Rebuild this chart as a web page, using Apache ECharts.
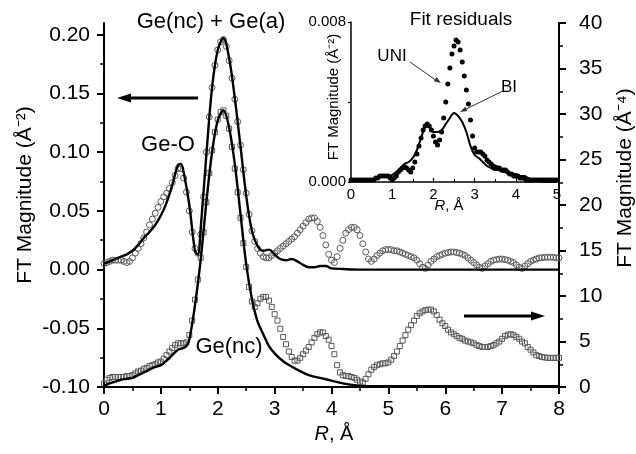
<!DOCTYPE html>
<html><head><meta charset="utf-8">
<script src="https://cdn.jsdelivr.net/npm/echarts@6/dist/echarts.min.js"></script>
<style>html,body{margin:0;padding:0;background:#fff}#c{width:636px;height:454px}</style>
</head><body><div id="c"></div>
<script>
// ---- main plot: R grid of the measured data (start / step) ----
const R_START = 0, R_STEP = 0.05;
// Ge(nc)+Ge(a) data, left axis (Å^-2)
const upperData = [
 0.005,0.006,0.007,0.008,0.008,0.008,0.008,0.007,0.006,0.007,
 0.010,0.014,0.018,0.022,0.027,0.032,0.038,0.043,0.048,0.053,
 0.058,0.062,0.065,0.069,0.074,0.080,0.086,0.086,0.078,0.066,
 0.050,0.032,0.018,0.014,0.030,0.062,0.100,0.130,0.155,0.174,
 0.187,0.194,0.196,0.190,0.178,0.163,0.145,0.126,0.106,0.085,
 0.065,0.047,0.033,0.024,0.018,0.014,0.011,0.010,0.010,0.012,
 0.014,0.016,0.018,0.020,0.022,0.024,0.026,0.028,0.031,0.034,
 0.037,0.040,0.043,0.044,0.044,0.041,0.036,0.029,0.021,0.013,
 0.008,0.006,0.011,0.018,0.025,0.031,0.034,0.036,0.036,0.034,
 0.029,0.022,0.015,0.009,0.007,0.009,0.012,0.014,0.016,0.017,
 0.017,0.017,0.016,0.016,0.015,0.014,0.013,0.012,0.011,0.010,
 0.008,0.005,0.002,0.001,0.004,0.007,0.009,0.011,0.012,0.013,
 0.014,0.0145,0.015,0.015,0.0145,0.014,0.013,0.012,0.010,0.008,
 0.006,0.004,0.002,0.001,0.003,0.005,0.007,0.008,0.0085,0.009,
 0.009,0.0085,0.008,0.007,0.006,0.004,0.002,0.001,0.003,0.005,
 0.007,0.008,0.009,0.010,0.010,0.0105,0.0105,0.0105,0.0105,0.010,
 0.010];
// Ge(nc) data, right axis (Å^-4)
const lowerData = [
 0.4,0.8,1.0,1.1,1.1,1.1,1.1,1.1,1.2,1.2,
 1.3,1.5,1.7,1.8,2.0,2.1,2.3,2.4,2.5,2.7,
 2.8,3.1,3.5,3.9,4.3,4.6,4.8,4.8,4.8,4.9,
 5.7,7.3,9.6,11.8,14.2,17.0,20.3,23.5,26.0,28.0,
 29.4,30.2,30.4,29.8,28.4,26.4,24.0,21.4,18.6,15.8,
 13.2,11.0,9.4,8.8,9.2,9.7,9.9,9.9,9.5,8.8,
 8.0,7.3,6.4,5.5,4.7,3.9,3.3,2.9,2.9,3.2,
 3.6,4.0,4.4,4.9,5.4,5.8,6.0,6.0,5.6,5.2,
 4.5,3.6,2.4,1.6,1.3,1.2,1.2,1.1,1.0,0.8,
 0.6,0.5,0.9,1.4,1.9,2.2,2.4,2.5,2.6,2.6,
 2.7,3.0,3.4,3.9,4.5,5.1,5.7,6.3,6.8,7.3,
 7.8,8.1,8.3,8.45,8.5,8.5,8.3,7.9,7.4,7.0,
 6.7,6.3,6.0,5.8,5.6,5.4,5.3,5.1,5.0,4.9,
 4.8,4.6,4.5,4.4,4.4,4.4,4.5,4.6,4.8,5.0,
 5.3,5.6,5.75,5.8,5.7,5.5,5.3,5.0,4.8,4.4,
 4.1,3.8,3.5,3.4,3.3,3.25,3.2,3.2,3.2,3.2,
 3.2];
// fits
const upperFitR = [0,0.1,0.2,0.3,0.4,0.5,0.6,0.7,0.8,0.9,1.0,1.1,1.2,1.3,1.35,1.4,1.5,1.6,1.65,1.7,1.8,1.9,2.0,2.1,2.2,2.3,2.4,2.5,2.6,2.7,2.8,2.9,3.0,3.1,3.2,3.3,3.4,3.5,3.6,3.7,3.8,3.9,4.0,4.2,4.5,5.0,6.0,7.0,8.0];
const upperFit  = [0.005,0.007,0.009,0.011,0.013,0.016,0.021,0.027,0.032,0.038,0.046,0.057,0.072,0.089,0.090,0.083,0.055,0.016,0.013,0.035,0.098,0.155,0.187,0.197,0.180,0.146,0.105,0.063,0.033,0.020,0.016,0.017,0.013,0.009,0.008,0.009,0.007,0.004,0.002,0.002,0.003,0.003,0.001,0.0005,0,0,0,0,0];
const lowerFitR = [0,0.1,0.2,0.3,0.4,0.5,0.6,0.7,0.8,0.9,1.0,1.1,1.2,1.3,1.4,1.45,1.5,1.6,1.7,1.8,1.9,2.0,2.1,2.2,2.3,2.4,2.5,2.6,2.7,2.8,2.9,3.0,3.1,3.2,3.4,3.6,3.8,4.0,4.2,4.4,4.6,5.0,6.0,7.0,8.0];
const lowerFit  = [0.1,0.4,0.6,0.8,0.9,1.0,1.3,1.6,1.9,2.2,2.4,2.9,3.5,4.1,4.3,4.5,5.2,9.0,14.0,20.3,25.8,29.3,30.4,28.5,24.5,19.0,13.5,9.7,7.2,5.8,4.5,3.7,3.1,2.6,1.9,1.3,1.0,0.7,0.4,0.2,0.1,0.1,0.1,0.1,0.1];
// ---- inset: fit residuals ----
const INSET_STEP = 0.05;
const uniData = [
 0.0001,0.0001,0.0001,0.0001,0.0001,0.0001,0.0001,0.0001,0.0001,0.0001,
 0.0001,0.0001,0.0002,0.0002,0.0003,0.0003,0.0003,0.0003,0.0003,0.0002,
 0.0001,0.0002,0.0003,0.0005,0.0006,0.0007,0.00075,0.0007,0.0006,0.0005,
 0.0007,0.0010,0.0014,0.0018,0.0022,0.0026,0.0028,0.0029,0.0028,0.0026,
 0.0023,0.0020,0.00185,0.0021,0.0025,0.0032,0.0040,0.0049,0.0057,0.0064,
 0.0068,0.0071,0.0070,0.0066,0.0060,0.0053,0.0046,0.0039,0.0031,0.0023,
 0.0017,0.0015,0.0015,0.0015,0.0014,0.0013,0.0011,0.0010,0.0009,0.0008,
 0.00075,0.0007,0.0007,0.0006,0.0006,0.0006,0.0005,0.0004,0.0004,0.0003,
 0.0003,0.0003,0.0002,0.0002,0.0002,0.0001,0.0001,0.0001,0.0001,0.0001,
 0.0001,0.0001,0.0001,0.0001,0.0001,0.0001,0.0001,0.0001,0.0001,0.0001,
 0.0001];
const biR    = [0,0.5,0.6,0.7,0.8,0.9,1.0,1.1,1.2,1.3,1.4,1.5,1.6,1.7,1.8,1.85,1.9,2.0,2.1,2.2,2.3,2.4,2.5,2.6,2.7,2.8,2.9,3.0,3.1,3.2,3.3,3.4,3.5,3.6,3.7,3.8,3.9,4.0,4.1,4.2,4.3,4.4,4.5,4.7,5.0];
const biData = [0.0001,0.0001,0.0002,0.0003,0.0003,0.0003,0.00035,0.0005,0.0007,0.0009,0.001,0.0012,0.0016,0.0022,0.0028,0.0029,0.0028,0.0025,0.0025,0.0026,0.0029,0.0032,0.00345,0.0033,0.003,0.0025,0.0018,0.00135,0.0012,0.001,0.0008,0.0007,0.0006,0.0006,0.0005,0.0005,0.0004,0.0004,0.0003,0.0003,0.0002,0.0001,0.0001,0,0];
// tick values
const leftTicks = [-0.10,-0.05,0.00,0.05,0.10,0.15,0.20];
const leftMinor = [-0.075,-0.025,0.025,0.075,0.125,0.175];

const pairs = (xs, ys) => ys.map((v, i) => [xs[i], v]);
const grid = (start, step, ys) => ys.map((v, i) => [+(start + i * step).toFixed(3), v]);

const FF = 'Liberation Sans, Arial, sans-serif';
const black = '#000';
const txt = (text, x, y, size, extra) => Object.assign({
  type: 'text', x: x, y: y, z: 100,
  style: { text: text, fontSize: size, fontFamily: FF, fill: black,
           align: 'center', verticalAlign: 'middle', textAlign: 'center', textVerticalAlign: 'middle' }
}, extra || {});

const chart = echarts.init(document.getElementById('c'), null, { renderer: 'canvas' });
chart.setOption({
  animation: false,
  backgroundColor: '#fff',
  grid: [
    { left: 104, right: 77, top: 23, bottom: 67, containLabel: false, outerBoundsMode: 'none' },
    { left: 351, right: 79, top: 22, bottom: 272, containLabel: false, outerBoundsMode: 'none' }
  ],
  xAxis: [
    { gridIndex: 0, type: 'value', min: 0, max: 8, interval: 1,
      axisLine: { show: true, onZero: false, lineStyle: { color: black, width: 2 } },
      axisTick: { show: true, inside: false, length: 7, lineStyle: { color: black, width: 2 } },
      minorTick: { show: true, splitNumber: 2, length: 4, lineStyle: { color: black, width: 1.5 } },
      axisLabel: { fontSize: 21, fontFamily: FF, color: black, margin: 12 },
      splitLine: { show: false } },
    { gridIndex: 1, type: 'value', min: 0, max: 5, interval: 1,
      axisLine: { show: true, onZero: false, lineStyle: { color: black, width: 1.5 } },
      axisTick: { show: true, inside: true, length: 4, lineStyle: { color: black, width: 1.2 } },
      minorTick: { show: true, splitNumber: 2, length: 3, lineStyle: { color: black, width: 1 } },
      axisLabel: { fontSize: 15, fontFamily: FF, color: black, margin: 5 },
      splitLine: { show: false } }
  ],
  yAxis: [
    { gridIndex: 0, type: 'value', position: 'left', min: -0.1, max: 0.21,
      axisLine: { show: true, onZero: false, lineStyle: { color: black, width: 2 } },
      axisTick: { show: true, inside: false, length: 7, lineStyle: { color: black, width: 2 }, customValues: leftTicks },
      axisLabel: { fontSize: 21, fontFamily: FF, color: black, margin: 14, customValues: leftTicks,
                   formatter: v => v.toFixed(2) },
      splitLine: { show: false } },
    { gridIndex: 0, type: 'value', position: 'left', min: -0.1, max: 0.21,
      axisLine: { show: false },
      axisTick: { show: true, inside: false, length: 4, lineStyle: { color: black, width: 1.5 }, customValues: leftMinor },
      axisLabel: { show: false },
      splitLine: { show: false } },
    { gridIndex: 0, type: 'value', position: 'right', min: 0, max: 40, interval: 5,
      axisLine: { show: true, onZero: false, lineStyle: { color: black, width: 2 } },
      axisTick: { show: true, inside: false, length: 7, lineStyle: { color: black, width: 2 } },
      minorTick: { show: true, splitNumber: 2, length: 4, lineStyle: { color: black, width: 1.5 } },
      axisLabel: { fontSize: 21, fontFamily: FF, color: black, margin: 20 },
      splitLine: { show: false } },
    { gridIndex: 1, type: 'value', position: 'left', min: 0, max: 0.008, interval: 0.004,
      axisLine: { show: true, onZero: false, lineStyle: { color: black, width: 1.5 } },
      axisTick: { show: true, inside: false, length: 3, lineStyle: { color: black, width: 1.2 } },
      axisLabel: { fontSize: 15, fontFamily: FF, color: black, margin: 5,
                   formatter: v => (Math.abs(v - 0.004) < 1e-9 ? '' : v.toFixed(3)) },
      splitLine: { show: false } }
  ],
  series: [
    { type: 'scatter', xAxisIndex: 0, yAxisIndex: 0, data: grid(R_START, R_STEP, upperData),
      symbol: 'circle', symbolSize: 6, silent: true,
      itemStyle: { color: 'rgba(0,0,0,0)', borderColor: '#5a5a5a', borderWidth: 1, opacity: 1 } },
    { type: 'scatter', xAxisIndex: 0, yAxisIndex: 2, data: grid(R_START, R_STEP, lowerData),
      symbol: 'rect', symbolSize: 5, silent: true,
      itemStyle: { color: 'rgba(0,0,0,0)', borderColor: '#5a5a5a', borderWidth: 1, opacity: 1 } },
    { type: 'line', xAxisIndex: 0, yAxisIndex: 0, data: pairs(upperFitR, upperFit),
      showSymbol: false, smooth: 0.35, lineStyle: { color: black, width: 2.4 } },
    { type: 'line', xAxisIndex: 0, yAxisIndex: 2, data: pairs(lowerFitR, lowerFit),
      showSymbol: false, smooth: 0.35, lineStyle: { color: black, width: 2.4 } },
    { type: 'line', xAxisIndex: 1, yAxisIndex: 3, data: pairs(biR, biData),
      showSymbol: false, smooth: 0.35, lineStyle: { color: black, width: 2 } },
    { type: 'scatter', xAxisIndex: 1, yAxisIndex: 3, data: grid(0, INSET_STEP, uniData),
      symbol: 'circle', symbolSize: 5, silent: true,
      itemStyle: { color: black, opacity: 1 } }
  ],
  graphic: [
    txt('Ge(nc) + Ge(a)', 211, 22, 22),
    txt('Ge-O', 168, 145, 22),
    txt('Ge(nc)', 229, 347, 22),
    txt('Fit residuals', 461, 20, 19),
    txt('UNI', 392, 56, 17),
    txt('BI', 509, 87, 17),
    txt('FT Magnitude (Å⁻²)', 25, 195, 21, { rotation: Math.PI / 2 }),
    txt('FT Magnitude (Å⁻⁴)', 625, 178, 21, { rotation: Math.PI / 2 }),
    txt('FT Magnitude (Å⁻²)', 334, 97, 15, { rotation: Math.PI / 2 }),
    { type: 'text', x: 334, y: 434, z: 100,
      style: { text: '{i|R}, Å', fontSize: 20, fontFamily: FF, fill: black,
               align: 'center', verticalAlign: 'middle', textAlign: 'center', textVerticalAlign: 'middle',
               rich: { i: { fontStyle: 'italic', fontSize: 20, fontFamily: FF, fill: black } } } },
    { type: 'text', x: 449, y: 206, z: 100,
      style: { text: '{i|R}, Å', fontSize: 15, fontFamily: FF, fill: black,
               align: 'center', verticalAlign: 'middle', textAlign: 'center', textVerticalAlign: 'middle',
               rich: { i: { fontStyle: 'italic', fontSize: 15, fontFamily: FF, fill: black } } } },
    // arrows
    { type: 'line', z: 100, shape: { x1: 198, y1: 98, x2: 128, y2: 98 }, style: { stroke: black, lineWidth: 3 } },
    { type: 'polygon', z: 100, shape: { points: [[117, 98], [131, 93.5], [131, 102.5]] }, style: { fill: black } },
    { type: 'line', z: 100, shape: { x1: 464, y1: 316, x2: 534, y2: 316 }, style: { stroke: black, lineWidth: 3 } },
    { type: 'polygon', z: 100, shape: { points: [[545, 316], [531, 311.5], [531, 320.5]] }, style: { fill: black } },
    { type: 'line', z: 100, shape: { x1: 410, y1: 62, x2: 437, y2: 81 }, style: { stroke: '#333', lineWidth: 1 } },
    { type: 'polygon', z: 100, shape: { points: [[441, 83], [433.8, 81.2], [436.6, 77.0]] }, style: { fill: '#333' } },
    { type: 'line', z: 100, shape: { x1: 503, y1: 91, x2: 464, y2: 110 }, style: { stroke: '#333', lineWidth: 1 } },
    { type: 'polygon', z: 100, shape: { points: [[460, 112], [465.2, 106.7], [467.4, 111.1]] }, style: { fill: '#333' } }
  ]
});
</script>
</body></html>
